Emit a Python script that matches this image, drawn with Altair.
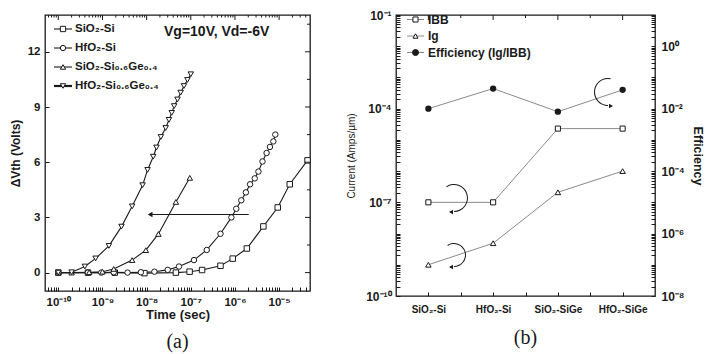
import json
import math
import altair as alt
import pandas as pd

FONT = "Liberation Sans"
SERIF = "Liberation Serif"
INK = "#1a1a1a"
GREY = "#8a8a8a"

# ---------------- panel (a) data ----------------
series_a = ["SiO₂-Si", "HfO₂-Si", "SiO₂-Si₀.₆Ge₀.₄", "HfO₂-Si₀.₆Ge₀.₄"]
shapes_a = ["square", "circle", "triangle-up", "triangle-down"]

t_sio2_si = [1e-10, 4.7e-10, 1.9e-9, 8.9e-9, 4.6e-8, 9.4e-8, 1.8e-7, 4.7e-7, 8.9e-7,
             1.86e-6, 4.4e-6, 9.3e-6, 1.74e-5, 4.4e-5]
v_sio2_si = [0.0, 0.0, 0.0, -0.03, 0.0, 0.05, 0.14, 0.37, 0.76, 1.31, 2.51, 3.54, 4.8, 6.1]

t_hfo2_si = [1e-10, 4.7e-10, 9.4e-10, 1.8e-9, 3.7e-9, 7.4e-9, 1.5e-8, 3.0e-8, 5.4e-8,
             1.18e-7, 2.3e-7, 4.7e-7, 8.3e-7, 1.07e-6, 1.39e-6, 1.77e-6, 2.2e-6, 2.8e-6,
             3.4e-6, 4.2e-6, 5.2e-6, 6.2e-6, 7.4e-6, 8.2e-6]
v_hfo2_si = [0.0, 0.0, 0.0, 0.02, 0.0, 0.02, 0.05, 0.15, 0.33, 0.68, 1.23, 2.11, 3.0,
             3.47, 3.93, 4.36, 4.8, 5.12, 5.49, 6.04, 6.5, 6.83, 7.13, 7.5]

t_sio2_sige = [1e-10, 2e-10, 5e-10, 1e-9, 1.8e-9, 4.7e-9, 9.6e-9, 1.85e-8, 4.6e-8, 9.5e-8]
v_sio2_sige = [0.0, 0.0, 0.02, 0.05, 0.2, 0.68, 1.22, 2.1, 3.84, 5.15]

t_hfo2_sige = [1e-10, 2e-10, 4e-10, 7e-10, 1.4e-9, 2.7e-9, 4.7e-9, 8.1e-9, 1.05e-8, 1.41e-8,
               1.67e-8, 2.1e-8, 2.7e-8, 3.2e-8, 3.7e-8, 4.2e-8, 5.0e-8, 5.9e-8, 7.0e-8,
               8.4e-8, 1.0e-7]
v_hfo2_sige = [0.0, 0.02, 0.33, 0.77, 1.45, 2.5, 3.6, 4.75, 5.58, 6.3, 6.8, 7.37, 7.86,
               8.3, 8.68, 9.05, 9.41, 9.78, 10.14, 10.47, 10.78]

cond_text = "Vg=10V, Vd=-6V"
arrow_a_t = [1.2e-8]
arrow_a_t2 = [2.05e-6]
arrow_a_v = [3.16]

# ---------------- panel (b) data ----------------
categories_b = ["SiO₂-Si", "HfO₂-Si", "SiO₂-SiGe", "HfO₂-SiGe"]
ibb = [1.0e-7, 1.0e-7, 2.3e-5, 2.3e-5]
ig = [1.0e-9, 4.9e-9, 2.1e-7, 1.0e-6]
eff = [1.0e-2, 4.4e-2, 8.0e-3, 4.0e-2]
legend_b = ["IBB", "Ig", "Efficiency (Ig/IBB)"]

# ---------------- helpers ----------------
SUP = str.maketrans("-0123456789", "⁻⁰¹²³⁴⁵⁶⁷⁸⁹")
TICK = 4


def pow_expr(exps):
    parts = [f"abs(log(datum.value)/LN10 - ({e})) < 0.01 ? '10{str(e).translate(SUP)}'" for e in exps]
    return " : ".join(parts) + " : ''"


def lin_in(lo, hi, frac, from_hi=False):
    return (hi - (hi - lo) * frac, hi) if from_hi else (lo, lo + (hi - lo) * frac)


def log_in(lo, hi, frac, from_hi=False):
    span = math.log10(hi / lo) * frac
    return (hi / 10 ** span, hi) if from_hi else (lo, lo * 10 ** span)


def tick_rules(values, span, xfield, xscale, yfield, yscale, pos_is_x, y_axis_off):
    """Short mirror rules at the top / right frame edge, through the chart's scales."""
    a, b = span
    n = len(values)
    ych = (alt.Y(f"{yfield}:Q", scale=yscale, axis=None) if y_axis_off
           else alt.Y(f"{yfield}:Q", scale=yscale))
    if pos_is_x:
        d = pd.DataFrame({xfield: values, yfield: [a] * n, yfield + "_2": [b] * n})
        enc = dict(x=alt.X(f"{xfield}:Q", scale=xscale), y=ych, y2=f"{yfield}_2:Q")
    else:
        d = pd.DataFrame({yfield: values, xfield: [a] * n, xfield + "_2": [b] * n})
        enc = dict(y=ych, x=alt.X(f"{xfield}:Q", scale=xscale), x2=f"{xfield}_2:Q")
    return alt.Chart(d).mark_rule(color=INK, strokeWidth=1).encode(**enc)


AX_COMMON = dict(ticks=True, tickSize=TICK, offset=-TICK, tickColor=INK, tickWidth=1,
                 domain=False, grid=False, labelOverlap=False, labelBound=False)

# ---------------- panel (a) ----------------
WA, HA = 265, 276
rows = []
for name, ts, vs in zip(series_a, [t_sio2_si, t_hfo2_si, t_sio2_sige, t_hfo2_sige],
                        [v_sio2_si, v_hfo2_si, v_sio2_sige, v_hfo2_sige]):
    for t, v in zip(ts, vs):
        rows.append({"series": name, "t": t, "v": v})
df_a = pd.DataFrame(rows)

XA = (5e-11, 5e-5)
YA = (-1, 14)
xs_a = alt.Scale(type="log", domain=list(XA), nice=False)
ys_a = alt.Scale(domain=list(YA), nice=False, zero=False)

dec_a = [10.0 ** e for e in range(-10, -4)]
minor_a = [m * 10.0 ** e for e in range(-11, -4) for m in range(2, 10)
           if 5.01e-11 <= m * 10.0 ** e <= 4.99e-5]
ymaj_a = [0, 3, 6, 9, 12]
ymin_a = [1.5, 4.5, 7.5, 10.5, 13.5]

xlab_a = alt.Axis(orient="bottom", values=dec_a + minor_a,
                  labelExpr=pow_expr(range(-10, -4)), labelFontSize=11.5,
                  labelFontWeight="bold", labelPadding=5, title="Time (sec)",
                  titleFontSize=13, titleFontWeight="bold", titlePadding=1, **AX_COMMON)
ylab_a = alt.Axis(orient="left", values=ymaj_a + ymin_a,
                  labelExpr="datum.value % 3 == 0 ? datum.label : ''",
                  labelFontSize=11.5, labelFontWeight="bold", labelPadding=5,
                  title="ΔVth (Volts)", titleFontSize=12, titleFontWeight="bold",
                  titlePadding=5, **AX_COMMON)

lines_a = alt.Chart(df_a).mark_line(color=INK, strokeWidth=1.1).encode(
    x=alt.X("t:Q", scale=xs_a, axis=xlab_a), y=alt.Y("v:Q", scale=ys_a, axis=ylab_a),
    detail="series:N")
points_a = alt.Chart(df_a).mark_point(filled=True, fill="white", stroke=INK,
                                      strokeWidth=1, size=30, opacity=1).encode(
    x=alt.X("t:Q", scale=xs_a), y=alt.Y("v:Q", scale=ys_a),
    shape=alt.Shape("series:N", scale=alt.Scale(domain=series_a, range=shapes_a),
                    legend=None))


def tk_a(values, span, pos_is_x):
    return tick_rules(values, span, "t", xs_a, "v", ys_a, pos_is_x, False)


tick_layers_a = [
    tk_a(dec_a, lin_in(*YA, 5 / HA, True), True),
    tk_a(minor_a, lin_in(*YA, 2.5 / HA, True), True),
    tk_a(ymaj_a, log_in(*XA, 5 / WA, True), False),
    tk_a(ymin_a, log_in(*XA, 3 / WA, True), False),
]

legend_layers_a = []
for i, (name, shp) in enumerate(zip(series_a, shapes_a)):
    y = 14 + 19 * i
    d = pd.DataFrame({"label": [name]})
    legend_layers_a += [
        alt.Chart(d).mark_rule(color=INK, strokeWidth=2.2 if i == 3 else 1.1).encode(
            x=alt.value(9), x2=alt.value(27), y=alt.value(y)),
        alt.Chart(d).mark_point(shape=shp, filled=True, fill="white", stroke=INK,
                                strokeWidth=1, size=28, opacity=1).encode(
            x=alt.value(18), y=alt.value(y)),
        alt.Chart(d).mark_text(align="left", baseline="middle", font=FONT, fontSize=11.5,
                               fontWeight="bold", color=INK).encode(
            x=alt.value(30), y=alt.value(y), text="label:N"),
    ]

cond_layer = alt.Chart(pd.DataFrame({"label": [cond_text]})).mark_text(
    align="left", baseline="middle", font=FONT, fontSize=14, fontWeight="bold",
    color=INK).encode(x=alt.value(119), y=alt.value(17), text="label:N")

arrow_df = pd.DataFrame({"t": arrow_a_t, "t_2": arrow_a_t2, "v": arrow_a_v})
arrow_line = alt.Chart(arrow_df).mark_rule(color=INK, strokeWidth=1.1).encode(
    x=alt.X("t:Q", scale=xs_a), x2="t_2:Q", y=alt.Y("v:Q", scale=ys_a))
arrow_head = alt.Chart(arrow_df).mark_point(shape="triangle-left", filled=True,
                                            color=INK, size=30, opacity=1).encode(
    x=alt.X("t:Q", scale=xs_a), y=alt.Y("v:Q", scale=ys_a))

chart_a = alt.layer(lines_a, points_a, *tick_layers_a, *legend_layers_a, cond_layer,
                    arrow_line, arrow_head).properties(
    width=WA, height=HA,
    title=alt.TitleParams("(a)", orient="bottom", font=SERIF, fontSize=20,
                          fontWeight="normal", color=INK, offset=10))

# ---------------- panel (b) ----------------
WB, HB = 259, 281
df_b = pd.DataFrame({"idx": list(range(len(categories_b))), "cat": categories_b,
                     "ibb": ibb, "ig": ig, "eff": eff})

XB = (-0.5, 3.5)
YL = (1e-10, 1e-1)
YR = (1e-8, 10)
xs_b = alt.Scale(domain=list(XB), nice=False, zero=False)
yl_b = alt.Scale(type="log", domain=list(YL), nice=False)
yr_b = alt.Scale(type="log", domain=list(YR), nice=False)

ldec = [10.0 ** e for e in range(-10, 0)]
lmin = [m * 10.0 ** e for e in range(-10, -1) for m in range(2, 10)]
rdec = [10.0 ** e for e in range(-8, 2)]
rmin = [m * 10.0 ** e for e in range(-8, 1) for m in range(2, 10)]

cat_list = json.dumps(categories_b, ensure_ascii=False).replace('"', "'")
xlab_b = alt.Axis(orient="bottom", values=[0, 0.5, 1, 1.5, 2, 2.5, 3],
                  labelExpr=f"datum.value % 1 == 0 ? {cat_list}[datum.value] : ''",
                  labelFontSize=10, labelFontWeight="bold", labelPadding=8, title=None,
                  **AX_COMMON)
ylab_b = alt.Axis(orient="left", values=ldec + lmin,
                  labelExpr=pow_expr([-1, -4, -7, -10]), labelFontSize=12,
                  labelFontWeight="bold", labelPadding=5, title="Current (Amps/µm)",
                  titleFontSize=10, titleFontWeight="normal", titlePadding=9, **AX_COMMON)
yrlab_b = alt.Axis(orient="right", values=rdec + rmin,
                   labelExpr=pow_expr([0, -2, -4, -6, -8]), labelFontSize=12,
                   labelFontWeight="bold", labelPadding=6, title="Efficiency",
                   titleFontSize=12.5, titleFontWeight="bold", titlePadding=6,
                   **AX_COMMON)

base_b = alt.Chart(df_b)


def enc_b(field, scale, xaxis=None, yaxis=None):
    xch = alt.X("idx:Q", scale=xs_b, axis=xaxis) if xaxis is not None else alt.X("idx:Q", scale=xs_b)
    return dict(x=xch, y=alt.Y(f"{field}:Q", scale=scale, axis=yaxis))


ibb_line = base_b.mark_line(color=GREY, strokeWidth=1).encode(
    **enc_b("ibb", yl_b, xlab_b, ylab_b))
ibb_pts = base_b.mark_point(shape="square", filled=True, fill="white", stroke=INK,
                            strokeWidth=1, size=26, opacity=1).encode(**enc_b("ibb", yl_b))
ig_line = base_b.mark_line(color=GREY, strokeWidth=1).encode(**enc_b("ig", yl_b))
ig_pts = base_b.mark_point(shape="triangle-up", filled=True, fill="white", stroke=INK,
                           strokeWidth=1, size=30, opacity=1).encode(**enc_b("ig", yl_b))
eff_line = base_b.mark_line(color=GREY, strokeWidth=1).encode(
    **enc_b("eff", yr_b, None, yrlab_b))
eff_pts = base_b.mark_point(shape="circle", filled=True, color=INK, size=40,
                            opacity=1).encode(**enc_b("eff", yr_b))


def tk_b(values, span, yscale, pos_is_x):
    return tick_rules(values, span, "idx", xs_b, "cur", yscale, pos_is_x, True)


tick_layers_b = [
    tk_b([0, 1, 2, 3], log_in(*YL, 5 / HB, True), yl_b, True),
    tk_b([0.5, 1.5, 2.5], log_in(*YL, 3 / HB, True), yl_b, True),
]

legend_layers_b = []
for i, (name, shp) in enumerate(zip(legend_b, ["square", "triangle-up", "circle"])):
    y = 4.5 + 16.5 * i
    d = pd.DataFrame({"label": [name]})
    legend_layers_b += [
        alt.Chart(d).mark_rule(color=GREY, strokeWidth=1).encode(
            x=alt.value(11), x2=alt.value(28), y=alt.value(y)),
        alt.Chart(d).mark_point(shape=shp, filled=True,
                                fill=INK if shp == "circle" else "white", stroke=INK,
                                strokeWidth=1, size=36 if shp == "circle" else 26,
                                opacity=1).encode(x=alt.value(19.5), y=alt.value(y)),
        alt.Chart(d).mark_text(align="left", baseline="middle", font=FONT, fontSize=12,
                               fontWeight="bold", color=INK).encode(
            x=alt.value(32), y=alt.value(y), text="label:N"),
    ]

# curved arrows indicating which axis each series belongs to
arc_specs = [  # (cx, cy, r, theta, theta2, head_x, head_y, head_shape)
    (58, 183, 14, 5.69, 9.42, 55, 197, "triangle-left"),
    (58, 240, 12, 5.69, 9.42, 55, 252, "triangle-left"),
    (212, 77, 14, 3.14, 6.48, 215, 91, "triangle-right"),
]
arc_layers = []
one = pd.DataFrame({"k": [0]})
for cx, cy, r, th, th2, hx, hy, hs in arc_specs:
    arc_layers += [
        alt.Chart(one).mark_arc(radius=r, radius2=r - 1, theta=th, theta2=th2,
                                color=INK).encode(x=alt.value(cx), y=alt.value(cy)),
        alt.Chart(one).mark_point(shape=hs, filled=True, color=INK, size=22,
                                  opacity=1).encode(x=alt.value(hx), y=alt.value(hy)),
    ]

chart_b = alt.layer(ibb_line, ibb_pts, ig_line, ig_pts, eff_line, eff_pts,
                    *tick_layers_b, *legend_layers_b, *arc_layers).resolve_scale(
    y="independent").properties(
    width=WB, height=HB,
    title=alt.TitleParams("(b)", orient="bottom", font=SERIF, fontSize=20,
                          fontWeight="normal", color=INK, offset=14))

chart = alt.hconcat(chart_a, chart_b, spacing=86, bounds="flush").properties(
    padding={"left": 0, "top": 0, "right": 0, "bottom": 0},
    background="white",
).configure_view(stroke=INK, strokeWidth=1.3).configure_axis(
    labelFont=FONT, titleFont=FONT, labelColor=INK, titleColor=INK
).configure_title(font=SERIF)

chart.save("out.html", embed_options={"renderer": "svg", "actions": False})
